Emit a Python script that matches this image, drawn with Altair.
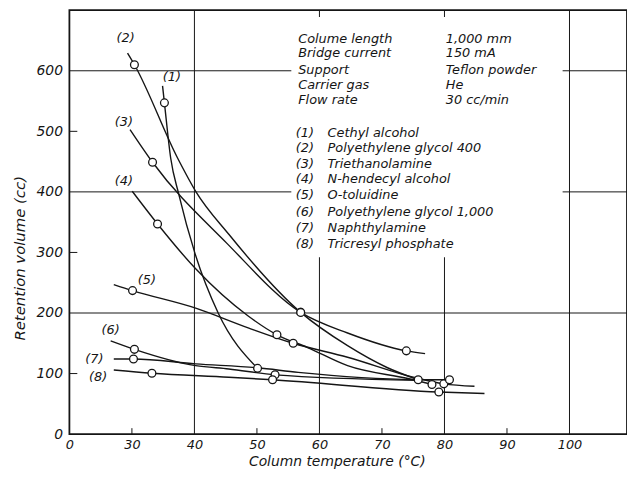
import altair as alt
import pandas as pd

FONT = "DejaVu Sans"
INK = "#151515"

# ---- curve data: temperature (°C), retention volume (cc), 1 = measured point marker
t1 = [34.9, 35.2, 36.2, 37.5, 40.1, 43.8, 50.1]
v1 = [575, 547, 456, 396, 298, 200, 108.6]
m1 = [0, 1, 0, 0, 0, 0, 1]

t2 = [29.3, 30.4, 37.3, 40.2, 45.5, 57.0, 64.5, 70.8, 75.8]
v2 = [629, 610, 456, 401, 330, 201, 146, 110, 89.7]
m2 = [0, 1, 0, 0, 0, 1, 0, 0, 1]

t3 = [29.7, 33.3, 45.2, 57.0, 64.5, 73.9, 76.9]
v3 = [503, 449, 315, 201, 167, 137.5, 133]
m3 = [0, 1, 0, 1, 0, 1, 0]

t4 = [30.05, 34.1, 40.2, 48.6, 53.2, 58.1, 64.5, 74.5, 78.0]
v4 = [401, 347, 273, 195, 164, 143, 113, 91, 82]
m4 = [0, 1, 0, 0, 1, 0, 0, 0, 1]

t5 = [27.1, 30.1, 40.2, 48.6, 55.8, 64.5, 75.0, 79.9, 84.8]
v5 = [247, 237, 208, 175.5, 150, 127, 94, 83, 79]
m5 = [0, 1, 0, 0, 1, 0, 0, 1, 0]

t6 = [26.6, 30.4, 40.2, 45.5, 52.9, 75.5]
v6 = [154, 140, 113, 107.6, 97.9, 89]
m6 = [0, 1, 0, 0, 1, 0]

t7 = [27.1, 30.25, 40.2, 50.1, 56.6, 75.3, 80.8]
v7 = [124, 124, 116, 109.5, 102, 90, 89.7]
m7 = [0, 1, 0, 0, 0, 0, 1]

t8 = [27.1, 33.2, 45.5, 52.5, 79.1, 86.4]
v8 = [106, 100.5, 94, 89.7, 69.5, 67]
m8 = [0, 1, 0, 1, 1, 0]

series_names = ["(1)", "(2)", "(3)", "(4)", "(5)", "(6)", "(7)", "(8)"]
series_t = [t1, t2, t3, t4, t5, t6, t7, t8]
series_v = [v1, v2, v3, v4, v5, v6, v7, v8]
series_m = [m1, m2, m3, m4, m5, m6, m7, m8]

# curve number labels (position in data units)
curve_label_t = [36.4, 29.0, 28.7, 28.7, 32.4, 26.6, 24.0, 24.6]
curve_label_v = [590, 654, 515, 418, 254, 172, 124, 94]

# condition / legend text block
cond_labels = ["Colume length", "Bridge current", "Support", "Carrier gas", "Flow rate"]
cond_values = ["1,000 mm", "150 mA", "Teflon powder", "He", "30 cc/min"]
cond_rows_v = [653, 629, 602, 576, 551]
legend_names = ["Cethyl alcohol", "Polyethylene glycol  400", "Triethanolamine",
                "N-hendecyl alcohol", "O-toluidine", "Polyethylene glycol 1,000",
                "Naphthylamine", "Tricresyl phosphate"]
legend_rows_v = [498, 472, 446, 421, 394, 367, 340, 314]
text_col_t = [56.6, 80.2]      # label column, value column
legend_col_t = [56.2, 61.3]    # number column, name column

# text block background (hides grid under the text)
mask_t = [55.5, 98.9]
mask_v = [292, 689]

# axes
x_domain = [20, 109.2]
y_domain = [0, 700]
x_label_values = [20, 30, 40, 50, 60, 70, 80, 90, 100]
y_label_values = [0, 100, 200, 300, 400, 500, 600]
x_grid = [40, 60, 80, 100]
y_grid = [200, 400, 600]
x_ticks = [30, 50, 70, 90]
y_ticks = [100, 300, 500]

W, H = 563, 428

# ---- tables
rows = []
for name, ts, vs, ms in zip(series_names, series_t, series_v, series_m):
    for i, (t, v, m) in enumerate(zip(ts, vs, ms)):
        rows.append({"series": name, "i": i, "t": t, "v": v, "m": m})
curves = pd.DataFrame(rows)
points = curves[curves["m"] == 1]

clabels = pd.DataFrame({"t": curve_label_t, "v": curve_label_v, "label": series_names})

info_rows = []
for lab, val, v in zip(cond_labels, cond_values, cond_rows_v):
    info_rows.append({"t": text_col_t[0], "v": v, "label": lab})
    info_rows.append({"t": text_col_t[1], "v": v, "label": val})
for num, nm, v in zip(series_names, legend_names, legend_rows_v):
    info_rows.append({"t": legend_col_t[0], "v": v, "label": num})
    info_rows.append({"t": legend_col_t[1], "v": v, "label": nm})
info = pd.DataFrame(info_rows)

mask = pd.DataFrame({"t": [mask_t[0]], "t2": [mask_t[1]], "v": [mask_v[0]], "v2": [mask_v[1]]})

xs = alt.Scale(domain=x_domain, nice=False, zero=False)
ys = alt.Scale(domain=y_domain, nice=False, zero=False)

x_axis = alt.Axis(values=x_label_values,
                  labelExpr="datum.value == 20 ? '0' : datum.label",
                  grid=False, ticks=False, domain=False,
                  labelFont=FONT, labelFontStyle="italic", labelFontSize=13,
                  labelColor=INK, labelPadding=5, labelFlush=False,
                  title="Column temperature (\u00b0C)", titleFont=FONT,
                  titleFontStyle="italic", titleFontWeight="normal", titleFontSize=14,
                  titleColor=INK, titleX=270, titleY=28, titleBaseline="middle",
                  titleAlign="center")
y_axis = alt.Axis(values=y_label_values, grid=False, ticks=False, domain=False,
                  labelFont=FONT, labelFontStyle="italic", labelFontSize=14,
                  labelColor=INK, labelPadding=7, labelFlush=False,
                  title="Retention volume (cc)", titleFont=FONT,
                  titleFontStyle="italic", titleFontWeight="normal", titleFontSize=15,
                  titleColor=INK, titleX=-50, titleY=250, titleAlign="center",
                  titleBaseline="middle", titleAngle=270)

base_x = alt.X("t:Q", scale=xs, axis=x_axis)
base_y = alt.Y("v:Q", scale=ys, axis=y_axis)

grid_x = alt.Chart(pd.DataFrame({"t": x_grid})).mark_rule(color=INK, strokeWidth=1).encode(
    x=alt.X("t:Q", scale=xs, axis=x_axis))
grid_y = alt.Chart(pd.DataFrame({"v": y_grid})).mark_rule(color=INK, strokeWidth=1).encode(
    y=alt.Y("v:Q", scale=ys, axis=y_axis))

mask_layer = alt.Chart(mask).mark_rect(color="white").encode(
    x=alt.X("t:Q", scale=xs), x2="t2:Q", y=alt.Y("v:Q", scale=ys), y2="v2:Q")

tick_x = alt.Chart(pd.DataFrame({"t": x_ticks})).mark_rule(color=INK, strokeWidth=1).encode(
    x=alt.X("t:Q", scale=xs), y=alt.value(H), y2=alt.value(H - 6))
tick_y = alt.Chart(pd.DataFrame({"v": y_ticks})).mark_rule(color=INK, strokeWidth=1).encode(
    y=alt.Y("v:Q", scale=ys), x=alt.value(0), x2=alt.value(8))

lines = alt.Chart(curves).mark_line(color=INK, strokeWidth=1.4, interpolate="monotone").encode(
    x=base_x, y=base_y, detail="series:N", order="i:Q")

marks = alt.Chart(points).mark_point(shape="circle", size=62, filled=True, fill="white",
                                     stroke=INK, strokeWidth=1.3, opacity=1).encode(
    x=alt.X("t:Q", scale=xs), y=alt.Y("v:Q", scale=ys))

curve_text = alt.Chart(clabels).mark_text(font=FONT, fontStyle="italic", fontSize=13,
                                          color=INK, align="center", baseline="middle").encode(
    x=alt.X("t:Q", scale=xs), y=alt.Y("v:Q", scale=ys), text="label:N")

info_text = alt.Chart(info).mark_text(font=FONT, fontStyle="italic", fontSize=13,
                                      color=INK, align="left", baseline="middle").encode(
    x=alt.X("t:Q", scale=xs), y=alt.Y("v:Q", scale=ys), text="label:N")

chart = alt.layer(grid_x, grid_y, mask_layer, tick_x, tick_y, lines, marks,
                  curve_text, info_text).properties(
    width=W, height=H,
    autosize=alt.AutoSizeParams(type="none"),
    padding={"left": 62, "top": 0, "right": 0, "bottom": 35},
    background="white",
).configure_view(stroke=INK, strokeWidth=1.8)

chart.save("out.html", embed_options={"renderer": "svg", "actions": False})
